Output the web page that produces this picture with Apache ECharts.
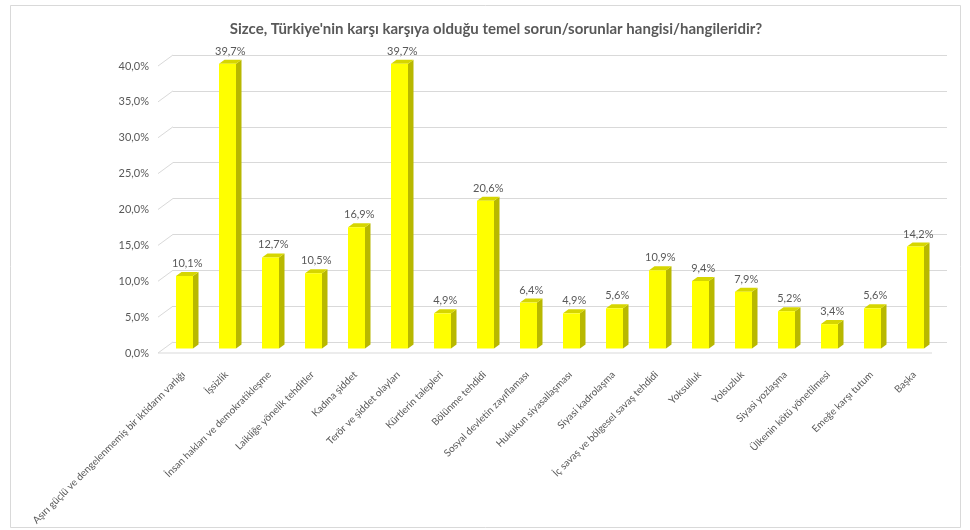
<!DOCTYPE html>
<html>
<head>
<meta charset="utf-8">
<script src="https://cdn.jsdelivr.net/npm/echarts@6/dist/echarts.min.js"></script>
<style>
html,body{margin:0;padding:0;background:#fff;}
#c{width:970px;height:530px;}
</style>
</head>
<body>
<div id="c"></div>
<script>
const title = "Sizce, Türkiye'nin karşı karşıya olduğu temel sorun/sorunlar hangisi/hangileridir?";
const categories = [
  "Aşırı güçlü ve dengelenmemiş bir iktidarın varlığı",
  "İşsizlik",
  "İnsan hakları ve demokratikleşme",
  "Laikliğe yönelik tehditler",
  "Kadına şiddet",
  "Terör ve şiddet olayları",
  "Kürtlerin talepleri",
  "Bölünme tehdidi",
  "Sosyal devletin zayıflaması",
  "Hukukun siyasallaşması",
  "Siyasi kadrolaşma",
  "İç savaş ve bölgesel savaş tehdidi",
  "Yoksulluk",
  "Yolsuzluk",
  "Siyasi yozlaşma",
  "Ülkenin kötü yönetilmesi",
  "Emeğe karşı tutum",
  "Başka"
];
const values = [10.1, 39.7, 12.7, 10.5, 16.9, 39.7, 4.9, 20.6, 6.4, 4.9, 5.6, 10.9, 9.4, 7.9, 5.2, 3.4, 5.6, 14.2];
const yTicks = [0, 5, 10, 15, 20, 25, 30, 35, 40];

const FONT = 'Lato, "Open Sans", sans-serif';
const GREY = '#595959';
const fmt = v => v.toFixed(1).replace('.', ',') + '%';

const chart = echarts.init(document.getElementById('c'), null, {renderer: 'canvas'});

const option = {
  backgroundColor: '#ffffff',
  animation: false,
  title: {
    text: title,
    left: 491, top: 17, textAlign: 'center',
    textStyle: {fontFamily: FONT, fontSize: 15, fontWeight: 'bold', color: GREY}
  },
  graphic: [{
    type: 'rect', shape: {x: 10.5, y: 5.5, width: 950, height: 522},
    style: {fill: 'none', stroke: '#D9D9D9', lineWidth: 1}, silent: true, z: -10
  }],
  grid: [
    {left: 173, right: 23, top: 55, bottom: 188},   // back wall
    {left: 162, right: 34, top: 66, bottom: 177}    // front plane (labels)
  ],
  xAxis: [
    {gridIndex: 0, type: 'category', data: categories, show: false},
    {gridIndex: 1, type: 'category', data: categories,
      axisLine: {show: false}, axisTick: {show: false},
      axisLabel: {interval: 0, rotate: 45, margin: 20, fontFamily: FONT, fontSize: 10, color: GREY}}
  ],
  yAxis: [
    {gridIndex: 0, type: 'value', min: 0, max: 40, interval: 5,
      axisLabel: {show: false}, axisLine: {show: false}, axisTick: {show: false},
      splitLine: {lineStyle: {color: '#D9D9D9', width: 1}}},
    {gridIndex: 1, type: 'value', min: 0, max: 40, interval: 5,
      axisLine: {show: false}, axisTick: {show: false}, splitLine: {show: false},
      axisLabel: {margin: 13, fontFamily: FONT, fontSize: 11, color: GREY, formatter: v => fmt(v)}}
  ],
  series: [
    {
      // left wall diagonals + floor front edge
      type: 'custom', xAxisIndex: 0, yAxisIndex: 0, silent: true, z: 1,
      data: yTicks.map(t => [0, t]),
      renderItem: function (params, api) {
        const cs = params.coordSys;
        const y = api.coord([0, api.value(1)])[1];
        const children = [{
          type: 'line',
          shape: {x1: cs.x, y1: y, x2: cs.x - 15, y2: y + 11},
          style: {stroke: '#D9D9D9', lineWidth: 1}
        }];
        if (api.value(1) === 0) {
          children.push({
            type: 'line',
            shape: {x1: cs.x - 15, y1: y + 11, x2: cs.x + cs.width - 15, y2: y + 11},
            style: {stroke: '#D9D9D9', lineWidth: 1}
          });
        }
        return {type: 'group', children: children};
      }
    },
    {
      type: 'custom', xAxisIndex: 0, yAxisIndex: 0, z: 5,
      data: values.map((v, i) => [i, v]),
      renderItem: function (params, api) {
        const top = api.coord([api.value(0), api.value(1)]);
        const base = api.coord([api.value(0), 0]);
        const L = top[0] - 18.5, W = 17, R = L + W;
        const yT = top[1] + 6.5, yB = base[1] + 6.5;
        const dx = 5.5, dy = 4;
        return {
          type: 'group',
          children: [
            {type: 'polygon', shape: {points: [[R, yT], [R + dx, yT - dy], [R + dx, yB - dy], [R, yB]]},
              style: {fill: '#B8B800'}},
            {type: 'polygon', shape: {points: [[L, yT], [L + dx, yT - dy], [R + dx, yT - dy], [R, yT]]},
              style: {fill: '#D6D600'}},
            {type: 'rect', shape: {x: L, y: yT, width: W, height: yB - yT},
              style: {fill: '#FFFF00'}},
            {type: 'text', x: L + (W + dx) / 2, y: yT - dy - 3,
              style: {text: fmt(api.value(1)), fill: GREY, font: '11px ' + FONT,
                textAlign: 'center', textVerticalAlign: 'bottom'}}
          ]
        };
      }
    }
  ]
};
chart.setOption(option);
</script>
</body>
</html>
